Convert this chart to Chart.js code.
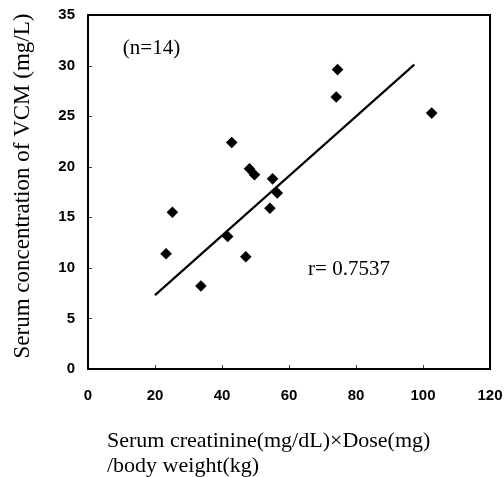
<!DOCTYPE html>
<html>
<head>
<meta charset="utf-8">
<script src="https://cdn.jsdelivr.net/npm/chart.js@4/dist/chart.umd.min.js"></script>
<style>
  html, body { margin: 0; padding: 0; background: #fff; }
  #wrap { width: 504px; height: 477px; }
</style>
</head>
<body>
<div id="wrap"><canvas id="chart" width="504" height="477"></canvas></div>
<script>
// data
var xValues = [23.3, 25.2, 33.7, 41.7, 42.9, 47.1, 48.2, 49.7, 55.1, 56.5, 54.3, 74.1, 74.5, 102.6]
var yValues = [11.4, 15.5, 8.2, 13.1, 22.4, 11.1, 19.8, 19.2, 18.8, 17.4, 15.9, 26.9, 29.6, 25.3]
var fitX = [20, 97.4]
var fitY = [7.3, 30.1]
var xTicks = [0, 20, 40, 60, 80, 100, 120]
var yTicks = [0, 5, 10, 15, 20, 25, 30, 35]

var nLabel = '(n=14)'
var rLabel = 'r= 0.7537'
var xTitle = ['Serum creatinine(mg/dL)\u00d7Dose(mg)', '/body weight(kg)']
var yTitle = 'Serum concentration of VCM (mg/L)'

var serif = '"Liberation Serif", "Times New Roman", serif'
var sans = '"Liberation Sans", Arial, sans-serif'

var points = xValues.map(function (x, i) { return { x: x, y: yValues[i] } })
var fitLine = fitX.map(function (x, i) { return { x: x, y: fitY[i] } })

// box, inward ticks and the text labels
var frame = {
  id: 'frame',
  afterDraw: function (chart) {
    var ctx = chart.ctx
    var a = chart.chartArea
    var xs = chart.scales.x
    var ys = chart.scales.y
    ctx.save()

    ctx.strokeStyle = '#444'
    ctx.lineWidth = 1
    xTicks.forEach(function (v) {
      var px = Math.round(xs.getPixelForValue(v)) + 0.5
      ctx.beginPath()
      ctx.moveTo(px, a.bottom)
      ctx.lineTo(px, a.bottom - 4)
      ctx.stroke()
    })
    yTicks.forEach(function (v) {
      var py = Math.round(ys.getPixelForValue(v)) + 0.5
      ctx.beginPath()
      ctx.moveTo(a.left, py)
      ctx.lineTo(a.left + 4, py)
      ctx.stroke()
    })

    ctx.strokeStyle = '#000'
    ctx.lineWidth = 2
    ctx.strokeRect(a.left, a.top, a.right - a.left, a.bottom - a.top)

    ctx.fillStyle = '#000'
    ctx.textBaseline = 'alphabetic'
    ctx.textAlign = 'left'
    ctx.font = '21px ' + serif
    ctx.fillText(nLabel, xs.getPixelForValue(10.4), ys.getPixelForValue(31.1))
    ctx.fillText(rLabel, xs.getPixelForValue(65.7), ys.getPixelForValue(9.3))

    ctx.font = '22px ' + serif
    ctx.fillText(xTitle[0], 107, 447)
    ctx.fillText(xTitle[1], 107, 472)

    ctx.font = '23px ' + serif
    ctx.translate(29, 186)
    ctx.rotate(-Math.PI / 2)
    ctx.textAlign = 'center'
    ctx.fillText(yTitle, 0, 0)
    ctx.restore()
  }
}

new Chart(document.getElementById('chart'), {
  type: 'scatter',
  data: {
    datasets: [{
      label: 'VCM',
      data: points,
      pointStyle: 'rectRot',
      pointRadius: 5.8,
      pointHoverRadius: 5.8,
      backgroundColor: '#000',
      borderColor: '#000',
      borderWidth: 0
    }, {
      type: 'line',
      label: 'fit',
      data: fitLine,
      borderColor: '#000',
      borderWidth: 2.2,
      pointRadius: 0,
      fill: false
    }]
  },
  options: {
    responsive: false,
    animation: false,
    layout: { padding: { left: 0, right: 14, top: 15, bottom: 0 } },
    plugins: {
      legend: { display: false },
      tooltip: { enabled: false }
    },
    scales: {
      x: {
        type: 'linear',
        min: 0,
        max: 120,
        afterFit: function (s) {
          s.height = 108
          s.paddingLeft = 0
          s.paddingRight = 0
        },
        grid: { display: false, drawTicks: false },
        border: { display: false },
        ticks: {
          stepSize: 20,
          padding: 18,
          color: '#000',
          font: { family: sans, size: 15, weight: 'bold' }
        }
      },
      y: {
        min: 0,
        max: 35,
        afterFit: function (s) {
          s.width = 88
          s.paddingTop = 0
          s.paddingBottom = 0
        },
        grid: { display: false, drawTicks: false },
        border: { display: false },
        ticks: {
          stepSize: 5,
          padding: 13,
          color: '#000',
          font: { family: sans, size: 15, weight: 'bold' }
        }
      }
    }
  },
  plugins: [frame]
})
</script>
</body>
</html>
